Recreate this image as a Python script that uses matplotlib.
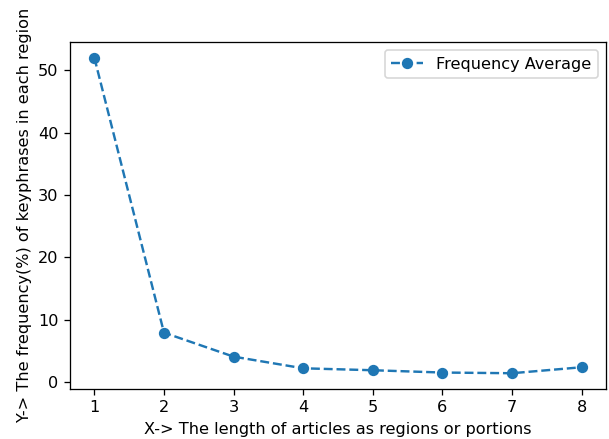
import matplotlib
matplotlib.use("Agg")
import matplotlib.pyplot as plt

regions = [1, 2, 3, 4, 5, 6, 7, 8]
freq_avg = [52.0, 7.9, 4.05, 2.18, 1.87, 1.5, 1.39, 2.35]

W, H = 609, 439
DPI = 116
fig = plt.figure(figsize=(W / DPI, H / DPI), dpi=DPI)
ax = fig.add_axes([70 / W, 1 - 389 / H, (606 - 70) / W, (389 - 42) / H])

ax.plot(regions, freq_avg, 'o--', color='#1f77b4', label='Frequency Average')
ax.set_xlabel('X-> The length of articles as regions or portions')
ax.set_ylabel('Y-> The frequency(%) of keyphrases in each region')
ax.set_xticks(regions)
ax.legend(loc='upper right')

fig.savefig('out.png', dpi=DPI)
